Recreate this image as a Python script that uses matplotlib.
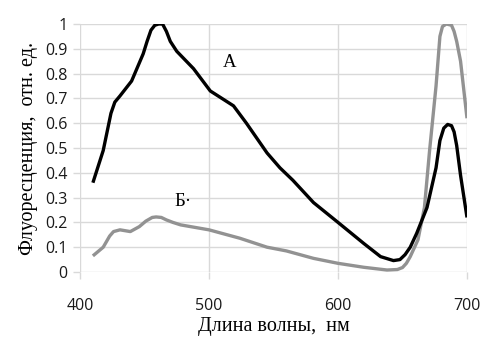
import numpy as np
import matplotlib.pyplot as plt

# curve A (black)
wl_a = [410, 418, 424, 427, 431, 440, 449, 452, 455, 458, 461, 464, 467, 470,
        475, 488, 501, 519, 529, 545, 555, 565, 581, 600, 620, 633, 643, 648,
        652, 656, 661, 669, 676, 679, 682, 685, 688, 690, 692, 695, 700]
val_a = [0.36, 0.49, 0.64, 0.685, 0.71, 0.77, 0.88, 0.93, 0.975, 0.995, 1.0,
         1.0, 0.97, 0.93, 0.89, 0.82, 0.73, 0.67, 0.60, 0.48, 0.42, 0.37, 0.28,
         0.20, 0.115, 0.062, 0.046, 0.05, 0.07, 0.10, 0.156, 0.26, 0.42, 0.53,
         0.58, 0.595, 0.59, 0.565, 0.51, 0.39, 0.22]

# curve B (gray)
wl_b = [410, 418, 423, 426, 431, 439, 446, 451, 456, 459, 463, 467, 472, 478,
        500, 524, 545, 560, 581, 600, 620, 638, 646, 650, 653, 656, 662, 667,
        671, 676, 679, 681, 684, 688, 690, 692, 695, 700]
val_b = [0.065, 0.10, 0.145, 0.163, 0.17, 0.163, 0.183, 0.205, 0.22, 0.222,
         0.22, 0.21, 0.2, 0.19, 0.17, 0.136, 0.10, 0.085, 0.055, 0.035, 0.019,
         0.008, 0.01, 0.018, 0.035, 0.062, 0.13, 0.26, 0.49, 0.75, 0.95, 0.99,
         1.0, 0.995, 0.97, 0.93, 0.85, 0.62]

xticks = [400, 500, 600, 700]
yticks = [0, 0.1, 0.2, 0.3, 0.4, 0.5, 0.6, 0.7, 0.8, 0.9, 1]
ytick_labels = ['0', '0.1', '0.2', '0.3', '0.4', '0.5', '0.6', '0.7', '0.8', '0.9', '1']

fig = plt.figure(figsize=(4.83, 3.41), dpi=100)
ax = fig.add_axes([80/483, 1-272/341, (467-80)/483, (272-24)/341])

grid_c = '#d9d9d9'
ax.plot(wl_b, val_b, color='#929292', lw=2.4, solid_capstyle='butt',
        solid_joinstyle='round', zorder=3)
ax.plot(wl_a, val_a, color='black', lw=2.4, solid_capstyle='butt',
        solid_joinstyle='round', zorder=4)

ax.set_xlim(400, 700)
ax.set_ylim(0, 1)
ax.set_xticks(xticks)
ax.set_yticks(yticks)
ax.set_yticklabels(ytick_labels)
ax.grid(True, color=grid_c, lw=1)
ax.set_axisbelow(True)
for s in ax.spines.values():
    s.set_visible(False)
ax.tick_params(axis='both', length=5, color=grid_c, width=1,
               labelsize=11.5, labelcolor='#1a1a1a')
ax.tick_params(axis='y', pad=4)
ax.tick_params(axis='x', pad=14)
for lbl in ax.get_xticklabels() + ax.get_yticklabels():
    lbl.set_family('Open Sans')

serif = 'Liberation Serif'
ax.set_xlabel('Длина волны,  нм', family=serif, fontsize=14.5, labelpad=2)
ax.set_ylabel('Флуоресценция,  отн. ед.', family=serif, fontsize=14.5, labelpad=5)
ax.text(516, 0.845, 'А', family=serif, fontsize=13.5, ha='center', va='center')
ax.text(480, 0.285, 'Б·', family=serif, fontsize=13.5, ha='center', va='center')

fig.savefig('out.png', dpi=100)
